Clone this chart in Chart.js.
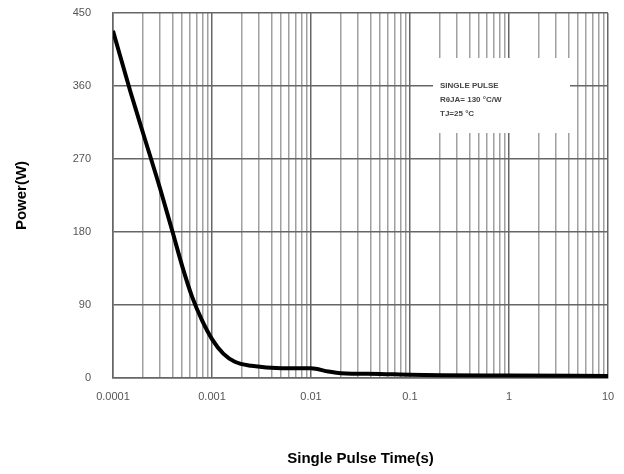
<!DOCTYPE html>
<html lang="en">
<head>
  <meta charset="UTF-8" />
  <title>Single Pulse Power</title>
  <script src="https://cdn.jsdelivr.net/npm/chart.js@4.4.1/dist/chart.umd.min.js"></script>
  <style>
    html,body{margin:0;padding:0;background:#fff;}
    #wrap{width:624px;height:474px;position:relative;}
  </style>
</head>
<body>
  <div id="wrap"><canvas id="chart"></canvas></div>

  <script>
    // curve
    const timeS  = [0.0001, 0.00015, 0.0002, 0.0003, 0.0004, 0.0005, 0.00063, 0.0008, 0.001, 0.0013, 0.0017, 0.0025, 0.005, 0.01, 0.015, 0.02, 0.05, 0.1, 1, 10];
    const powerW = [428, 353, 303, 233, 180, 138, 100, 70, 48, 30, 20, 15, 12, 12, 8, 6, 5, 4, 3, 2.5];

    const xDecades = [0.0001, 0.001, 0.01, 0.1, 1, 10];
    const xTickLabels = ['0.0001', '0.001', '0.01', '0.1', '1', '10'];
    const yTicks = [0, 90, 180, 270, 360, 450];
    const noteLines = ['SINGLE PULSE', 'R\u03B8JA= 130 \u00B0C/W', 'TJ=25 \u00B0C'];

    // 1..9 per decade for the grid
    const xGrid = [];
    xDecades.forEach((d, i) => {
      if (i === xDecades.length - 1) { xGrid.push(d); return; }
      for (let k = 1; k <= 9; k++) xGrid.push(+(d * k).toPrecision(3));
    });

    const notePlugin = {
      id: 'note',
      afterDatasetsDraw(chart) {
        const ctx = chart.ctx;
        ctx.save();
        ctx.fillStyle = '#fff';
        ctx.fillRect(433, 58, 137, 75);
        ctx.fillStyle = '#444';
        ctx.font = 'bold 8px "Liberation Sans", Arial, sans-serif';
        ctx.textBaseline = 'middle';
        noteLines.forEach((t, i) => ctx.fillText(t, 440, 86 + i * 14));
        ctx.restore();
      }
    };

    const tickFont = {family: '"Liberation Sans", Arial, sans-serif', size: 11};
    const titleFont = {family: '"Liberation Sans", Arial, sans-serif', size: 15, weight: 'bold'};

    new Chart(document.getElementById('chart'), {
      type: 'line',
      data: {
        datasets: [{
          data: timeS.map((t, i) => ({x: t, y: powerW[i]})),
          borderColor: '#000',
          borderWidth: 4,
          pointRadius: 0,
          cubicInterpolationMode: 'monotone',
          fill: false
        }]
      },
      options: {
        responsive: true,
        maintainAspectRatio: false,
        animation: false,
        layout: {padding: {top: 13, right: 16, left: 0, bottom: 0}},
        plugins: {legend: {display: false}, tooltip: {enabled: false}},
        scales: {
          x: {
            type: 'logarithmic',
            min: 0.0001, max: 10,
            afterBuildTicks: s => { s.ticks = xGrid.map(v => ({value: v})); },
            afterFit: s => { s.height = 96; },
            ticks: {
              autoSkip: false, maxRotation: 0, color: '#555', font: tickFont, padding: 0,
              callback: v => {
                const i = xDecades.findIndex(d => Math.abs(d - v) / d < 1e-6);
                return i >= 0 ? xTickLabels[i] : '';
              }
            },
            grid: {
              tickLength: 12, tickColor: 'rgba(0,0,0,0)',
              color: c => xDecades.some(d => Math.abs(d - c.tick.value) / d < 1e-6) ? '#666' : 'rgba(120,120,120,0.7)',
              lineWidth: 1.5
            },
            border: {display: true, color: '#666', width: 1.5},
            title: {display: true, text: 'Single Pulse Time(s)', color: '#000', font: titleFont, padding: {top: 0, bottom: 6}}
          },
          y: {
            min: 0, max: 450,
            afterBuildTicks: s => { s.ticks = yTicks.map(v => ({value: v})); },
            afterFit: s => { s.width = 113; },
            ticks: {color: '#555', font: tickFont, padding: 0},
            grid: {tickLength: 22, tickColor: 'rgba(0,0,0,0)', color: '#666', lineWidth: 1.5},
            border: {display: true, color: '#666', width: 1.5},
            title: {display: true, text: 'Power(W)', color: '#000', font: titleFont, padding: {top: 13, bottom: 0}}
          }
        }
      },
      plugins: [notePlugin]
    });
  </script>
</body>
</html>
